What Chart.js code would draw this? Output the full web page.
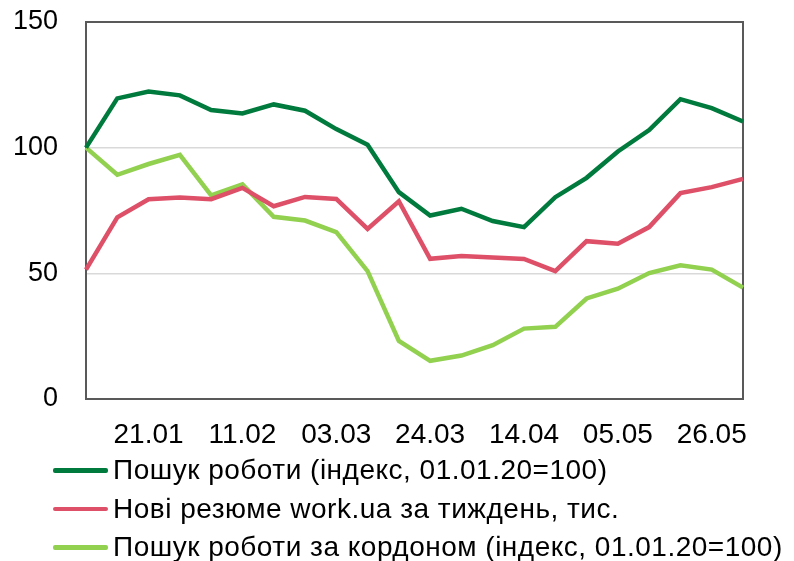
<!DOCTYPE html>
<html>
<head>
<meta charset="utf-8">
<script src="https://cdn.jsdelivr.net/npm/chart.js@4.4.0/dist/chart.umd.min.js"></script>
<style>
  html, body { margin: 0; padding: 0; background: #fff; }
  #wrap { position: relative; width: 794px; height: 561px; overflow: hidden; }
  #legend { position: absolute; left: 53px; top: 451px; font-family: "Liberation Sans", Arial, sans-serif; font-size: 28px; letter-spacing: 0.5px; color: #000; }
  .item { display: flex; align-items: center; height: 38.5px; white-space: nowrap; }
  .swatch { width: 55px; height: 4.5px; border-radius: 2px; margin-right: 5px; flex: none; }
</style>
</head>
<body>
<div id="wrap">
  <canvas id="chart" width="794" height="561"></canvas>
  <div id="legend"></div>
</div>
<script>
// --- data ---
const categories = ['07.01', '14.01', '21.01', '28.01', '04.02', '11.02', '18.02', '25.02', '03.03', '10.03', '17.03',
    '24.03', '31.03', '07.04', '14.04', '21.04', '28.04', '05.05', '12.05', '19.05', '26.05', '02.06'];

const jobSearch = [100, 119.6, 122.3, 120.8, 115, 113.6, 117.2, 114.7, 107.4, 101.2, 82.3,
    73, 75.7, 70.8, 68.4, 80.3, 88, 98.5, 107, 119.3, 115.7, 110.4];
const newResumes = [51.5, 72.3, 79.5, 80.2, 79.5, 84, 76.7, 80.4, 79.6, 67.7, 78.7,
    55.8, 56.9, 56.3, 55.7, 50.9, 62.8, 61.8, 68.4, 81.9, 84.3, 87.6];
const abroadSearch = [100, 89.2, 93.5, 97.1, 81, 85.4, 72.5, 71, 66.4, 50.9, 23.1,
    15.2, 17.3, 21.4, 28, 28.7, 40, 43.9, 50.1, 53.2, 51.5, 44.3];

const seriesNames = [
    'Пошук роботи (індекс, 01.01.20=100)',
    'Нові резюме work.ua за тиждень, тис.',
    'Пошук роботи за кордоном (індекс, 01.01.20=100)'
];
const yTicks = [0, 50, 100, 150];

const COLORS = {
    dark: '#007A3D',
    red: '#DE4F68',
    light: '#92D050',
    axis: '#595959',
    grid: '#D9D9D9'
};
const FONT = 'Liberation Sans, Arial, sans-serif';

// plot frame (top + right edges, Excel style)
const frameBox = {
    id: 'frameBox',
    beforeDatasetsDraw(chart) {
        const { ctx, chartArea: a } = chart;
        ctx.save();
        ctx.strokeStyle = COLORS.axis;
        ctx.lineWidth = 2;
        ctx.strokeRect(a.left, a.top, a.right - a.left, a.bottom - a.top);
        ctx.restore();
    }
};

const makeSet = (label, data, color) => ({
    label, data,
    borderColor: color,
    backgroundColor: color,
    borderWidth: 4.5,
    pointRadius: 0,
    tension: 0,
    fill: false
});

const chart = new Chart(document.getElementById('chart'), {
    type: 'line',
    data: {
        labels: categories,
        datasets: [
            makeSet(seriesNames[0], jobSearch, COLORS.dark),
            makeSet(seriesNames[1], newResumes, COLORS.red),
            makeSet(seriesNames[2], abroadSearch, COLORS.light)
        ]
    },
    options: {
        responsive: false,
        animation: false,
        layout: { padding: { left: 0, right: 51, top: 22, bottom: 0 } },
        plugins: { legend: { display: false }, tooltip: { enabled: false } },
        scales: {
            x: {
                offset: false,
                grid: { display: false, drawTicks: false },
                border: { color: COLORS.axis, width: 2 },
                ticks: {
                    autoSkip: false,
                    maxRotation: 0,
                    padding: 19,
                    color: '#000',
                    font: { family: FONT, size: 28 },
                    callback: (v, i) => (i % 3 === 2 ? categories[i] : '')
                },
                afterFit: s => { s.height = 162; s.paddingLeft = 0; s.paddingRight = 0; }
            },
            y: {
                min: 0,
                max: 150,
                afterBuildTicks: s => { s.ticks = yTicks.map(v => ({ value: v })); },
                grid: { color: COLORS.grid, lineWidth: 1.5, drawTicks: false },
                border: { color: COLORS.axis, width: 2 },
                ticks: {
                    padding: 28,
                    color: '#000',
                    font: { family: FONT, size: 27 }
                },
                // keep the plot top where the reference has it
                afterFit: s => { s.width = 86; s.paddingTop = 0; s.paddingBottom = 0; }
            }
        }
    },
    plugins: [frameBox]
});

// html legend, one entry per row
const legendEl = document.getElementById('legend');
chart.data.datasets.forEach(ds => {
    const row = document.createElement('div');
    row.className = 'item';
    const sw = document.createElement('span');
    sw.className = 'swatch';
    sw.style.background = ds.borderColor;
    const txt = document.createElement('span');
    txt.textContent = ds.label;
    row.appendChild(sw);
    row.appendChild(txt);
    legendEl.appendChild(row);
});
</script>
</body>
</html>
